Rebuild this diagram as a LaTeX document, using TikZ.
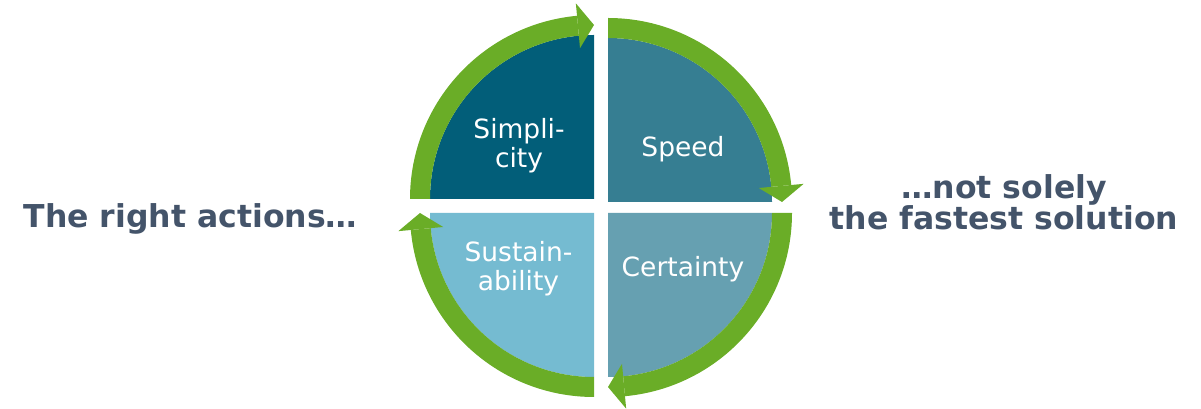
\documentclass[tikz,border=0pt]{standalone}
\usepackage{fontspec}
\setmainfont{DejaVu Sans}
\usepackage{tikz}

\definecolor{darkpetrol}{HTML}{025E79}
\definecolor{petrol}{HTML}{367E92}
\definecolor{greypetrol}{HTML}{66A0B1}
\definecolor{lightpetrol}{HTML}{75BBD1}
\definecolor{cyclegreen}{HTML}{6AAD27}
\definecolor{slate}{HTML}{44546A}

% one quarter of the cycle: corner, start angle, fill colour
% the green band runs clockwise and ends in an arrow head
\newcommand{\cyclequarter}[3]{%
  \begin{scope}[shift={(#1)}]
    \fill[#3] (0,0) -- (#2:164) arc[start angle=#2, end angle=#2-90, radius=164] -- cycle;
    \fill[ring] (#2:164) -- (#2:184)
      arc[start angle=#2, end angle=#2-84.7, radius=184]
      -- (#2-84.7:164)
      arc[start angle=#2-84.7, end angle=#2, radius=164] -- cycle;
    \fill[ring] (#2-84.7:151.5) -- (#2-84.7:196.5) -- (#2-90:174) -- cycle;
  \end{scope}}

\begin{document}
\begin{tikzpicture}[x=1pt,y=1pt,
    ring/.style={fill=cyclegreen},
    part/.style={text=white,align=center,font=\fontsize{26.5}{29}\selectfont},
    claim/.style={text=slate,align=center,font=\fontsize{31.5}{31}\selectfont\bfseries}]
   \useasboundingbox (0,0) rectangle (1201,409);

   % the four quarters
   \cyclequarter{594,210}{180}{darkpetrol}
   \cyclequarter{608,207}{90}{petrol}
   \cyclequarter{608,196}{0}{greypetrol}
   \cyclequarter{594,196}{270}{lightpetrol}

   % labels in the quarters
   \path (519,263) node[part] (simplicity) {Simpli-\\city};
   \path (683,252) node[part,anchor=base] (speed) {Speed};
   \path (683,132) node[part,anchor=base] (certainty) {Certainty};
   \path (518.5,140) node[part] (sustainability) {Sustain-\\ability};

   % statements left and right
   \path (190.5,181) node[claim,anchor=base] (actions) {The right actions…};
   \path (1004,207) node[claim] (solution) {…not solely\\the fastest solution};
\end{tikzpicture}
\end{document}
